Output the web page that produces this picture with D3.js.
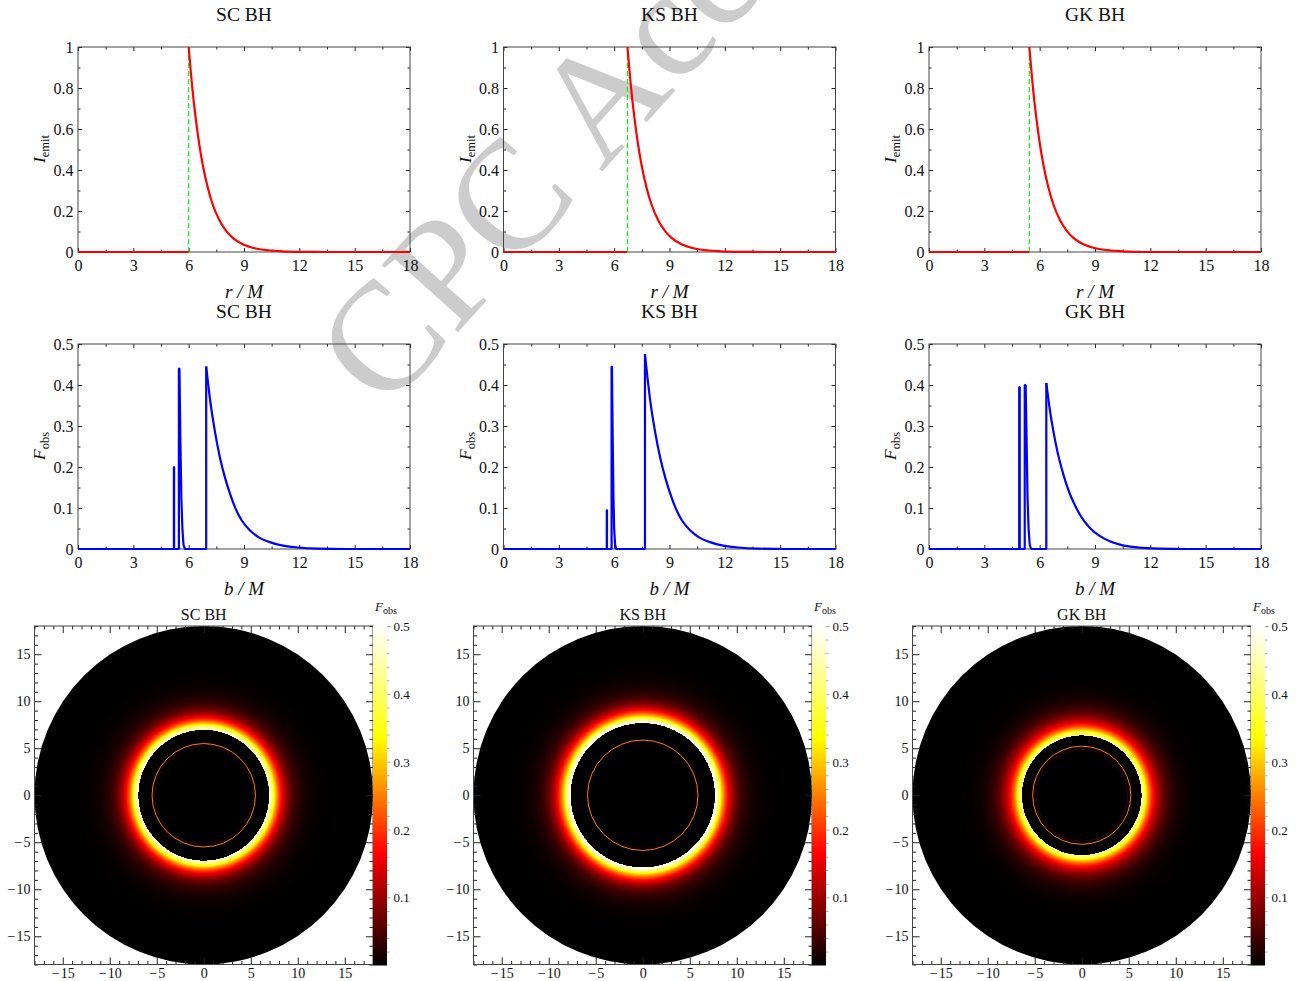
<!DOCTYPE html>
<meta charset="utf-8">
<script src="https://d3js.org/d3.v7.min.js"></script>
<style type="text/css">
body { margin: 0; background: #fff; }
text { font-family: "Liberation Serif", serif; fill: #111; }
.frame { fill: none; stroke: #444; stroke-width: 1px; }
.axis path { display: none; }
.axis line { stroke: #222; stroke-width: 1px; }
.axis text { fill: #111; }
.watermark { font-size: 155px; fill: #cccccc; }
</style>
<body></body>
<script>

var panelNames = ["SC BH", "KS BH", "GK BH"];

// I_emit (null breaks the line at the jump)
var emitR0 = [6, 6.72, 5.44];
var scEmitR = [0, 6, 6, 6, 6.22, 6.4, 6.58, 6.76, 7.03, 7.3, 7.66, 8.03, 8.39, 8.93, 9.65, 10.38, 11.06, 12.06, 13.56, 18];
var ksEmitR = [0, 6.72, 6.72, 6.72, 6.94, 7.12, 7.3, 7.48, 7.75, 8.02, 8.38, 8.75, 9.11, 9.65, 10.37, 11.1, 11.78, 12.78, 14.28, 18];
var gkEmitR = [0, 5.44, 5.44, 5.44, 5.66, 5.84, 6.02, 6.2, 6.47, 6.74, 7.1, 7.47, 7.83, 8.37, 9.09, 9.82, 10.5, 11.5, 13, 18];
var emitI = [0, 0, null, 1, 0.78, 0.64, 0.522, 0.427, 0.316, 0.233, 0.156, 0.103, 0.069, 0.038, 0.017, 0.0074, 0.0035, 0.001, 0, 0];

// F_obs: the narrow spikes...
var scSpikeB = [0, 5.2, 5.2, 5.21, 5.21, 5.47, 5.47, 5.5, 5.55, 5.6, 5.66, 5.72, 5.8, 6.95, 6.95];
var scSpikeF = [0, 0, 0.2, 0.2, 0, 0, 0.44, 0.44, 0.27, 0.13, 0.05, 0.01, 0, 0, 0.445];
var ksSpikeB = [0, 5.6, 5.6, 5.61, 5.61, 5.86, 5.86, 5.88, 5.92, 5.96, 6, 6.05, 6.12, 7.67, 7.67];
var ksSpikeF = [0, 0, 0.095, 0.095, 0, 0, 0.445, 0.445, 0.27, 0.13, 0.05, 0.01, 0, 0, 0.475];
var gkSpikeB = [0, 4.89, 4.89, 4.92, 4.92, 5.19, 5.19, 5.24, 5.29, 5.34, 5.4, 5.46, 5.54, 6.36, 6.36];
var gkSpikeF = [0, 0, 0.395, 0.395, 0, 0, 0.4, 0.4, 0.27, 0.13, 0.05, 0.01, 0, 0, 0.405];

// ...and the bright branch falling away from its jump
var scTailB = [6.95, 7.16, 7.43, 7.7, 7.97, 8.24, 8.51, 8.87, 9.33, 9.78, 10.32, 11.05, 11.95, 13, 14.5, 18];
var scTailF = [0.445, 0.364, 0.285, 0.222, 0.174, 0.135, 0.102, 0.07, 0.045, 0.029, 0.018, 0.0087, 0.0037, 0.001, 0, 0];
var ksTailB = [7.67, 7.96, 8.23, 8.5, 8.77, 9.04, 9.31, 9.67, 10.13, 10.58, 11.12, 11.85, 12.75, 13.8, 15.3, 18];
var ksTailF = [0.475, 0.36, 0.283, 0.222, 0.174, 0.135, 0.102, 0.07, 0.045, 0.029, 0.018, 0.0087, 0.0037, 0.001, 0, 0];
var gkTailB = [6.36, 6.55, 6.74, 6.97, 7.2, 7.42, 7.65, 7.9, 8.19, 8.75, 9.25, 9.8, 10.5, 11.4, 12.5, 14, 18];
var gkTailF = [0.405, 0.34, 0.288, 0.236, 0.195, 0.162, 0.133, 0.108, 0.083, 0.05, 0.032, 0.019, 0.009, 0.0035, 0.001, 0, 0];

// thin rings in the images, and how far the white rim runs before the glow falls off
var ringB = [[5.5, 5.2], [5.87, 5.6], [5.22, 4.88]];
var ringF = [[0.25, 0.03], [0.25, 0.012], [0.25, 0.04]];
var glowHold = [0.25, 0.25, 0.25];

var rTicks = [0, 3, 6, 9, 12, 15, 18];
var rMinor = [1.5, 4.5, 7.5, 10.5, 13.5, 16.5];
var emitTicks = [0, 0.2, 0.4, 0.6, 0.8, 1];
var emitMinor = [0.1, 0.3, 0.5, 0.7, 0.9];
var fluxTicks = [0, 0.1, 0.2, 0.3, 0.4, 0.5];
var fluxMinor = [0.05, 0.15, 0.25, 0.35, 0.45];
var imgTicks = [-15, -10, -5, 0, 5, 10, 15];
var imgMinor = [-18, -17, -16, -14, -13, -12, -11, -9, -8, -7, -6, -4, -3, -2, -1, 1, 2, 3, 4, 6, 7, 8, 9, 11, 12, 13, 14, 16, 17, 18];
var barTicks = [0.1, 0.2, 0.3, 0.4, 0.5];
var barMinor = [0.02, 0.04, 0.06, 0.08, 0.12, 0.14, 0.16, 0.18, 0.22, 0.24, 0.26, 0.28, 0.32, 0.34, 0.36, 0.38, 0.42, 0.44, 0.46, 0.48];
var colorValues = [0, 0.167, 0.335, 0.5];
var colorNames = ["#000000", "#ff0000", "#ffff00", "#ffffff"];

var emitR = [scEmitR, ksEmitR, gkEmitR];
var spikeB = [scSpikeB, ksSpikeB, gkSpikeB];
var spikeF = [scSpikeF, ksSpikeF, gkSpikeF];
var tailB = [scTailB, ksTailB, gkTailB];
var tailF = [scTailF, ksTailF, gkTailF];

var plotLeft = [78, 503.5, 929];
var imgLeft = [34.5, 473.5, 912.5];

var svg = d3.select("body").append("svg")
    .attr("width", 1309)
    .attr("height", 981)
    .style("display", "block");

var defs = svg.append("defs");

// watermark sits behind everything
svg.append("text")
    .attr("class", "watermark")
    .attr("transform", "translate(385,413) rotate(-48)")
    .text("CPC Accepted");

var color = d3.scaleLinear().domain(colorValues).range(colorNames).clamp(true);

function minusFormat(d) {
  return d < 0 ? "\u2212\u200a" + (-d) : "" + d;
}

// inward ticks on all four sides; labels only on left and bottom
function frameAxes(g, x, y, xt, xm, yt, ym, w, h, opts) {
  function add(axis, values, len, pad, tx) {
    var a = g.append("g").attr("class", "axis")
      .attr("transform", tx)
      .call(axis.tickValues(values).tickSizeInner(-len).tickSizeOuter(0).tickPadding(pad || 0)
        .tickFormat(pad ? minusFormat : ""));
    a.selectAll("text").style("font-size", opts.size + "px");
  }
  add(d3.axisBottom(x), xt, opts.major, opts.padX, "translate(0," + h + ")");
  add(d3.axisBottom(x), xm, opts.minor, 0, "translate(0," + h + ")");
  add(d3.axisTop(x), xt, opts.major, 0, "translate(0,0)");
  add(d3.axisTop(x), xm, opts.minor, 0, "translate(0,0)");
  add(d3.axisLeft(y), yt, opts.major, opts.padY, "translate(0,0)");
  add(d3.axisLeft(y), ym, opts.minor, 0, "translate(0,0)");
  add(d3.axisRight(y), yt, opts.major, 0, "translate(" + w + ",0)");
  add(d3.axisRight(y), ym, opts.minor, 0, "translate(" + w + ",0)");
  g.append("rect").attr("class", "frame").attr("width", w).attr("height", h);
}

function subLabel(g, x, y, main, sub, rotate, size, subSize) {
  var t = g.append("text")
    .attr("text-anchor", "middle")
    .attr("transform", "translate(" + x + "," + y + ")" + (rotate ? " rotate(-90)" : ""));
  t.append("tspan").style("font-style", "italic").style("font-size", size + "px").text(main);
  t.append("tspan").attr("dy", size * 0.25).style("font-size", subSize + "px").text(sub);
}

function linePlot(i, top, yDomain, yt, ym) {
  var w = 332, h = 205;
  var g = svg.append("g").attr("transform", "translate(" + plotLeft[i] + "," + top + ")");
  var x = d3.scaleLinear().domain([0, 18]).range([0, w]);
  var y = d3.scaleLinear().domain(yDomain).range([h, 0]);
  frameAxes(g, x, y, rTicks, rMinor, yt, ym, w, h, { major: 4, minor: 2.5, size: 16, padX: 7.5, padY: 4.5 });

  g.append("text")
    .attr("x", w / 2).attr("y", -26)
    .attr("text-anchor", "middle")
    .style("font-size", "19.5px")
    .text(panelNames[i]);

  return {
    g: g, x: x, y: y,
    draw: function(xs, ys, stroke, curve) {
      var line = d3.line()
        .defined(function(d) { return d[1] !== null; })
        .curve(curve)
        .x(function(d) { return x(d[0]); })
        .y(function(d) { return y(d[1]); });
      g.append("path")
        .datum(d3.zip(xs, ys))
        .attr("d", line)
        .attr("fill", "none")
        .attr("stroke", stroke)
        .attr("stroke-width", 2.2)
        .attr("stroke-linejoin", "bevel");
    }
  };
}

function imagePlot(i) {
  var s = 338.5, top = 626;
  var g = svg.append("g").attr("transform", "translate(" + imgLeft[i] + "," + top + ")");
  var x = d3.scaleLinear().domain([-18, 18]).range([0, s]);
  var y = d3.scaleLinear().domain([-18, 18]).range([s, 0]);

  // radial fill built from the bright F_obs branch
  var fluxAt = d3.scaleLinear().domain(tailB[i]).range(tailF[i]);
  var edge = tailB[i][0];
  var grad = defs.append("radialGradient").attr("id", "glow" + i)
    .attr("gradientUnits", "userSpaceOnUse")
    .attr("cx", x(0)).attr("cy", y(0)).attr("r", x(18) - x(0));
  function stop(b, f) {
    grad.append("stop").attr("offset", b / 18).attr("stop-color", color(f));
  }
  stop(0, 0);
  stop(edge, 0);
  d3.range(edge, 18, 0.05).forEach(function(b) {
    stop(b, fluxAt(Math.max(edge, b - glowHold[i])));
  });

  g.append("circle")
    .attr("cx", x(0)).attr("cy", y(0)).attr("r", x(18) - x(0))
    .attr("fill", "url(#glow" + i + ")");

  g.selectAll(".ring")
    .data(d3.zip(ringB[i], ringF[i]))
    .enter().append("circle")
      .attr("class", "ring")
      .attr("cx", x(0)).attr("cy", y(0))
      .attr("r", function(d) { return x(d[0]) - x(0); })
      .attr("fill", "none")
      .attr("stroke", function(d) { return color(d[1]); })
      .attr("stroke-width", 1);

  frameAxes(g, x, y, imgTicks, imgMinor, imgTicks, imgMinor, s, s, { major: 7, minor: 3.5, size: 14, padX: 4, padY: 4 });

  g.append("text")
    .attr("x", s / 2).attr("y", -6)
    .attr("text-anchor", "middle")
    .style("font-size", "16px")
    .text(panelNames[i]);

  // colour bar
  var barX = s, barW = 14;
  var bar = d3.scaleLinear().domain([0.001, 0.5]).range([s + 0.5, 0.5]);
  var barGrad = defs.append("linearGradient").attr("id", "bar" + i)
    .attr("x1", 0).attr("x2", 0).attr("y1", 1).attr("y2", 0);
  colorValues.forEach(function(v, k) {
    barGrad.append("stop")
      .attr("offset", Math.max(0, (v - 0.001) / 0.499))
      .attr("stop-color", colorNames[k]);
  });
  g.append("rect")
    .attr("x", barX).attr("y", 0)
    .attr("width", barW).attr("height", s + 1)
    .attr("fill", "url(#bar" + i + ")");
  g.append("g").selectAll("line")
    .data(barMinor.concat(barTicks))
    .enter().append("line")
      .attr("x1", barX + barW)
      .attr("x2", function(d) { return barX + barW + (barTicks.indexOf(d) >= 0 ? 3.5 : 2.5); })
      .attr("y1", function(d) { return bar(d); })
      .attr("y2", function(d) { return bar(d); })
      .attr("stroke", "#aaa");
  g.append("g").selectAll("text")
    .data(barTicks)
    .enter().append("text")
      .attr("x", barX + barW + 6.5)
      .attr("y", function(d) { return bar(d) + 4.5; })
      .style("font-size", "13px")
      .text(function(d) { return d; });
  subLabel(g, barX + 13, -15, "F", "obs", false, 13, 10);
}

panelNames.forEach(function(name, i) {
  var upper = linePlot(i, 47, [0, 1], emitTicks, emitMinor);

  upper.g.append("line")
    .attr("x1", upper.x(emitR0[i])).attr("x2", upper.x(emitR0[i]))
    .attr("y1", upper.y(0)).attr("y2", upper.y(1))
    .attr("stroke", "#00ff00")
    .attr("stroke-width", 1.2)
    .attr("stroke-dasharray", "5 3");
  upper.draw(emitR[i], emitI, "#ff0000", d3.curveMonotoneX);

  subLabel(upper.g, -33, 102, "I", "emit", true, 17.5, 12.5);
  upper.g.append("text")
    .attr("x", 166).attr("y", 251)
    .attr("text-anchor", "middle")
    .style("font-size", "19px").style("font-style", "italic")
    .text("r / M");

  var mid = linePlot(i, 344, [0, 0.5], fluxTicks, fluxMinor);
  mid.draw(spikeB[i], spikeF[i], "#0000ff", d3.curveLinear);
  mid.draw(tailB[i], tailF[i], "#0000ff", d3.curveMonotoneX);
  subLabel(mid.g, -33, 102, "F", "obs", true, 17.5, 12.5);
  mid.g.append("text")
    .attr("x", 166).attr("y", 251)
    .attr("text-anchor", "middle")
    .style("font-size", "19px").style("font-style", "italic")
    .text("b / M");

  imagePlot(i);
});

</script>
